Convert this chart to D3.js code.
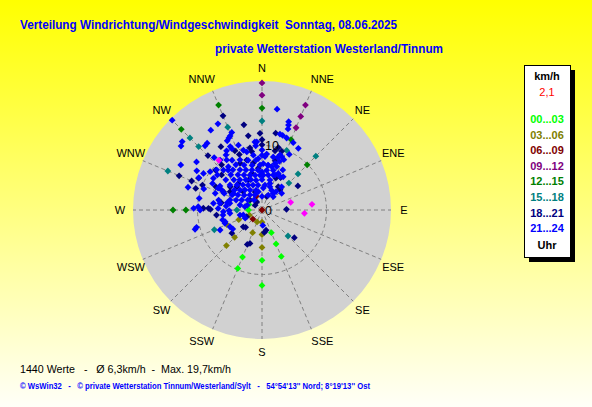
<!DOCTYPE html>
<html>
<head>
<meta charset="utf-8">
<script src="https://cdn.jsdelivr.net/npm/d3@7"></script>
<style>
  body { margin: 0; }
  svg { display: block; }
</style>
</head>
<body>
<div id="chart"></div>
<script>
//Dimensions of the picture
const width = 592;
const height = 407;
const cx = 262, cy = 210, radius = 129;

//Compass directions (16 sectors)
const directions = ["N", "NNE", "NE", "ENE", "E", "ESE", "SE", "SSE", "S", "SSW", "SW", "WSW", "W", "WNW", "NW", "NNW"];
const hourLabels = ["00...03", "03...06", "06...09", "09...12", "12...15", "15...18", "18...21", "21...24"];
const speedTicks = [0, 10];

//Readings as [direction in degrees, speed in km/h], one list per 3 hour block
const h0003 = [[180, 7.8], [180, 11.7], [157.5, 3.8], [157.5, 5.7], [157.5, 7.8], [202.5, 7.9], [202.5, 9.8], [292.5, 2.2], [270, 2.1]];
const h0306 = [[180, 1.9], [180, 3.8], [180, 5.8], [202.5, 2.0], [202.5, 3.8], [225, 6.0], [225, 7.8], [247.5, 3.9], [247.5, 5.9], [247.5, 2.1]];
const h0609 = [[0, 0], [337.5, 2.3], [225, 2.0]];
const h0912 = [[0, 19.7], [0, 17.8], [22.5, 17.6], [22.5, 15.7], [22.5, 13.8]];
const h1215 = [[0, 15.8], [22.5, 11.8], [45, 9.9], [337.5, 17.6], [315, 17.7], [270, 13.8], [270, 11.8]];
const h1518 = [[0, 13.8], [22.5, 10.0], [45, 11.8], [45, 7.9], [45, 5.9], [337.5, 13.9], [315, 15.8], [315, 13.9], [292.5, 15.8], [247.5, 8.0], [270, 3.9], [135, 5.7]];
const h1821 = [
  [337.5, 15.8], [348, 13.5], [358.5, 11.9], [0, 10.9], [0, 10.1], [349.5, 11.7], [327, 11.7], [335.4, 10.1],
  [337.8, 9.3], [349, 9.8], [350, 9.2], [318.2, 9.4], [292.4, 13.9], [292.4, 11.8], [288, 10.8], [292.7, 10.0],
  [280, 6.4], [271.7, 9.1], [271.8, 8.3], [270.8, 8.0], [263.7, 7.1], [232.4, 5.9], [223.3, 3.7], [203.2, 5.8],
  [199.8, 5.5], [327, 1.5], [168.7, 3.2], [174, 3.5], [88.4, 3.8], [130.6, 6.6], [56.1, 6.7], [14.7, 10.0],
  [12.4, 9.4], [18.5, 9.6], [14.9, 7.9], [42, 4.2], [19.5, 2.2], [35, 4.4], [10.1, 12.1], [296.6, 11.0],
  [315.2, 11.9], [310.6, 9.5], [296.7, 8.0], [23.4, 5.4], [29.8, 5.8], [299.8, 5.7], [318.4, 5.5], [311, 8.3],
  [334.8, 8.0], [343, 8.1], [349.4, 7.4], [354.9, 6.5], [344.3, 5.9], [312.6, 5.3], [314.4, 4.1], [335.5, 5.1],
  [306.1, 6.1], [295.3, 6.6], [339.1, 3.0], [309.8, 2.4], [305.5, 1.3], [246.4, 2.6], [228.2, 3.9]
];
const h2124 = [
  [315, 19.7], [8.5, 15.8], [16.8, 14.3], [17.3, 13.8], [17.8, 13.2], [15.5, 12.0], [13.3, 12.1], [18.9, 11.8],
  [24.9, 11.5], [30.5, 11.1], [26.1, 9.6], [18.1, 9.0], [40.2, 4.7], [49.7, 4.0], [40.3, 2.7],
  [16.6, 8.5], [20.3, 8.8], [23.5, 8.5], [19.7, 8.0], [15.8, 6.4], [18.7, 7.1], [12.6, 6.9], [6.7, 6.2],
  [10.2, 5.5], [17.9, 5.7], [24, 6.2], [32.6, 6.1], [27.4, 7.0], [28.4, 5.9], [20.4, 5.8], [2.1, 5.4], [0, 5.9],
  [19, 3.8], [6.8, 3.9], [3.4, 3.4], [25.9, 3.4], [22.8, 2.5], [0, 2.1], [34, 3.1], [177, 2.4],
  [0, 9.3], [0, 8.5], [3.2, 8.3], [4.8, 8.7], [1.6, 7.2], [8, 7.0], [12, 8.4], [15.6, 7.5],
  [16.7, 4.3], [37.4, 3.6], [348.6, 2.9],
  [332.9, 15.0], [327.3, 14.7], [338.7, 12.9], [336.7, 12.5], [335.3, 12.3], [333.3, 12.0], [320.6, 13.4],
  [318.4, 13.3], [333.4, 11.0], [308.3, 16.0], [310.6, 16.3], [329.1, 10.7], [326.8, 10.2], [317.6, 11.0],
  [306.3, 12.6], [299, 14.4], [302, 10.7], [306.4, 10.0], [297.1, 11.0], [311.5, 9.4], [287.1, 12.0],
  [289.9, 9.6], [298.2, 8.7], [299.7, 7.5], [296.4, 7.6], [296.4, 7.0], [293.7, 6.4], [277.8, 7.6],
  [281.9, 5.5], [276.3, 5.6], [273, 9.9], [270, 9.6], [267.5, 6.0], [269, 5.1], [255.9, 6.3], [252.5, 6.0],
  [253.9, 10.8], [255.2, 10.5], [237, 5.4], [301, 11.8], [271.4, 10.6], [280.5, 9.9], [262.7, 6.1],
  [264, 5.0], [257, 3.5], [244, 2.9], [354, 10.6], [345.3, 9.3], [342.7, 9.7], [340, 10.7], [333.8, 10.6],
  [320, 10.1], [324.8, 9.5], [322.1, 8.5], [316, 8.6], [303.1, 9.0], [308.1, 8.8], [289.6, 7.7], [282.9, 6.9],
  [287.4, 5.2], [300.2, 5.1], [279, 6.6], [272, 6.8], [281.8, 5.1], [250.2, 6.1], [244.5, 7.2], [242.4, 5.6],
  [281, 2.7], [255, 3.0], [355.6, 10.6], [354.4, 10.0], [351, 8.6], [355.9, 8.0],
  [329, 9.0], [336.3, 8.5], [344.4, 8.0], [353.2, 7.8],
  [330, 8.1], [338.2, 7.5], [347.5, 7.1], [357.5, 7.0], [7.6, 7.0],
  [319.6, 8.1], [324.1, 7.7], [331.2, 7.1], [338.2, 6.7], [346, 6.4], [354.3, 6.2],
  [318.5, 7.3], [325.6, 6.6], [332.8, 6.1], [341.1, 5.7], [348.7, 5.5], [356.7, 5.4],
  [309.8, 7.3], [317, 6.4], [323.7, 5.8], [331.9, 5.3], [339.9, 5.0], [348.7, 4.7], [0, 4.7], [14.9, 4.8],
  [308, 6.3], [315, 5.5], [322.8, 4.9], [330.8, 4.4], [340.2, 4.1], [350.9, 3.9],
  [305.5, 5.3], [312.3, 4.6], [319.6, 4.1], [329, 3.6], [343.3, 3.2],
  [296.6, 5.2], [302, 4.4], [309.8, 3.6], [321.3, 3.0], [335, 2.6],
  [291, 4.3], [296.6, 3.5], [305.5, 2.7], [321.3, 2.0], [282.8, 3.5], [288.4, 2.4]
];
//Extra readings drawn in magenta (not in the legend)
const extra = [[319, 10.2], [75, 4.6], [83.5, 7.8], [94.5, 6.6]];

const series = [h0003, h0306, h0609, h0912, h1215, h1518, h1821, h2124];
const hourColors = ["#00ff00", "#808000", "#800000", "#800080", "#008000", "#008080", "#000080", "#0000ff"];

//Scales
const r = d3.scaleLinear().domain([0, 20]).range([0, radius]);
const angle = d3.scaleLinear().domain([0, 360]).range([0, 2 * Math.PI]);

const svg = d3.create("svg")
  .attr("width", width)
  .attr("height", height)
  .attr("viewBox", [0, 0, width, height])
  .style("font-family", "'Liberation Sans', Arial, sans-serif");

//Yellow background fading to white
const grad = svg.append("defs").append("linearGradient")
  .attr("id", "bg").attr("x1", 0).attr("y1", 0).attr("x2", 0).attr("y2", 1);
grad.append("stop").attr("offset", 0).attr("stop-color", "#ffff00");
grad.append("stop").attr("offset", 1).attr("stop-color", "#fffff8");
svg.append("rect").attr("width", width).attr("height", height).attr("fill", "url(#bg)");

//Titles
svg.append("text")
  .attr("x", 20).attr("y", 29)
  .attr("textLength", 377).attr("lengthAdjust", "spacingAndGlyphs")
  .attr("fill", "#0000ff").style("font-size", "13.5px").style("font-weight", "bold")
  .style("white-space", "pre")
  .text("Verteilung Windrichtung/Windgeschwindigkeit  Sonntag, 08.06.2025");

svg.append("text")
  .attr("x", 215).attr("y", 53)
  .attr("textLength", 228).attr("lengthAdjust", "spacingAndGlyphs")
  .attr("fill", "#0000ff").style("font-size", "13.5px").style("font-weight", "bold")
  .text("private Wetterstation Westerland/Tinnum");

//The polar plot
const g = svg.append("g").attr("transform", `translate(${cx},${cy})`);

g.append("circle").attr("r", r(20)).attr("fill", "#d1d1d1");

//Dashed radial lines for every direction
g.selectAll(".spoke")
  .data(directions)
  .join("line")
  .attr("class", "spoke")
  .attr("x1", 0).attr("y1", 0)
  .attr("x2", (d, i) => d3.pointRadial(angle(i * 22.5), r(20))[0])
  .attr("y2", (d, i) => d3.pointRadial(angle(i * 22.5), r(20))[1])
  .attr("stroke", "#808080")
  .attr("stroke-dasharray", "4,3");

//Ring at 10 km/h
g.append("circle")
  .attr("r", r(10))
  .attr("fill", "none")
  .attr("stroke", "#808080")
  .attr("stroke-dasharray", "4,3");

//Direction labels, pushed a bit sideways for the steep ones like the original
const labelPos = i => {
  const [x, y] = d3.pointRadial(angle(i * 22.5), r(20) + 13);
  const s = Math.sin(angle(i * 22.5));
  const c = Math.cos(angle(i * 22.5));
  return [x + (Math.abs(s) < 0.5 && Math.abs(s) > 0.1 ? 6 * Math.sign(s) : 0),
          y + (Math.abs(c) < 0.5 && Math.abs(c) > 0.1 ? -3 * Math.sign(c) : 0)];
};

g.selectAll(".dir")
  .data(directions)
  .join("text")
  .attr("class", "dir")
  .attr("x", (d, i) => labelPos(i)[0])
  .attr("y", (d, i) => labelPos(i)[1])
  .attr("text-anchor", "middle")
  .attr("dy", "0.36em")
  .style("font-size", "11px")
  .text(d => d);

//Dots, one diamond per reading
const diamond = d3.symbol().type(d3.symbolSquare).size(23);

const drawDots = (data, color) => {
  g.append("g")
    .selectAll("path")
    .data(data)
    .join("path")
    .attr("d", diamond)
    .attr("transform", d => {
      const [x, y] = d3.pointRadial(angle(d[0]), r(d[1]));
      return `translate(${x},${y}) rotate(45)`;
    })
    .attr("fill", color);
};

series.forEach((s, i) => drawDots(s, hourColors[i]));
drawDots(extra, "#ff00ff");

//Speed labels
g.selectAll(".tick")
  .data(speedTicks)
  .join("text")
  .attr("class", "tick")
  .attr("x", 3)
  .attr("y", d => -r(d) + 4.5)
  .style("font-size", "12.5px")
  .text(d => d);

//Legend with shadow
const legend = svg.append("g").attr("transform", "translate(524,65)");
legend.append("rect").attr("x", 5).attr("y", 5).attr("width", 46).attr("height", 192).attr("fill", "#000");
legend.append("rect").attr("x", 0.5).attr("y", 0.5).attr("width", 46).attr("height", 192)
  .attr("fill", "#fff").attr("stroke", "#000");

legend.append("text")
  .attr("x", 23).attr("y", 14.5).attr("text-anchor", "middle")
  .style("font-size", "11px").style("font-weight", "bold")
  .text("km/h");
legend.append("text")
  .attr("x", 23).attr("y", 30.5).attr("text-anchor", "middle")
  .attr("fill", "#ff0000").style("font-size", "11px")
  .text("2,1");

legend.selectAll(".hour")
  .data(hourLabels)
  .join("text")
  .attr("class", "hour")
  .attr("x", 23)
  .attr("y", (d, i) => 58 + i * 15.6)
  .attr("text-anchor", "middle")
  .attr("fill", (d, i) => hourColors[i])
  .style("font-size", "11px").style("font-weight", "bold")
  .text(d => d);

legend.append("text")
  .attr("x", 23).attr("y", 184).attr("text-anchor", "middle")
  .style("font-size", "11px").style("font-weight", "bold")
  .text("Uhr");

//Footer
svg.append("text")
  .attr("x", 20).attr("y", 373)
  .attr("textLength", 211).attr("lengthAdjust", "spacingAndGlyphs")
  .style("font-size", "11px").style("white-space", "pre")
  .text("1440 Werte   -   Ø 6,3km/h  -  Max. 19,7km/h");

svg.append("text")
  .attr("x", 20).attr("y", 388.5)
  .attr("textLength", 350).attr("lengthAdjust", "spacingAndGlyphs")
  .attr("fill", "#0000ff")
  .style("font-size", "8.5px").style("font-weight", "bold").style("white-space", "pre")
  .text("© WsWin32   -   © private Wetterstation Tinnum/Westerland/Sylt   -   54°54'13'' Nord; 8°19'13'' Ost");

d3.select("#chart").node().append(svg.node());
</script>
</body>
</html>
